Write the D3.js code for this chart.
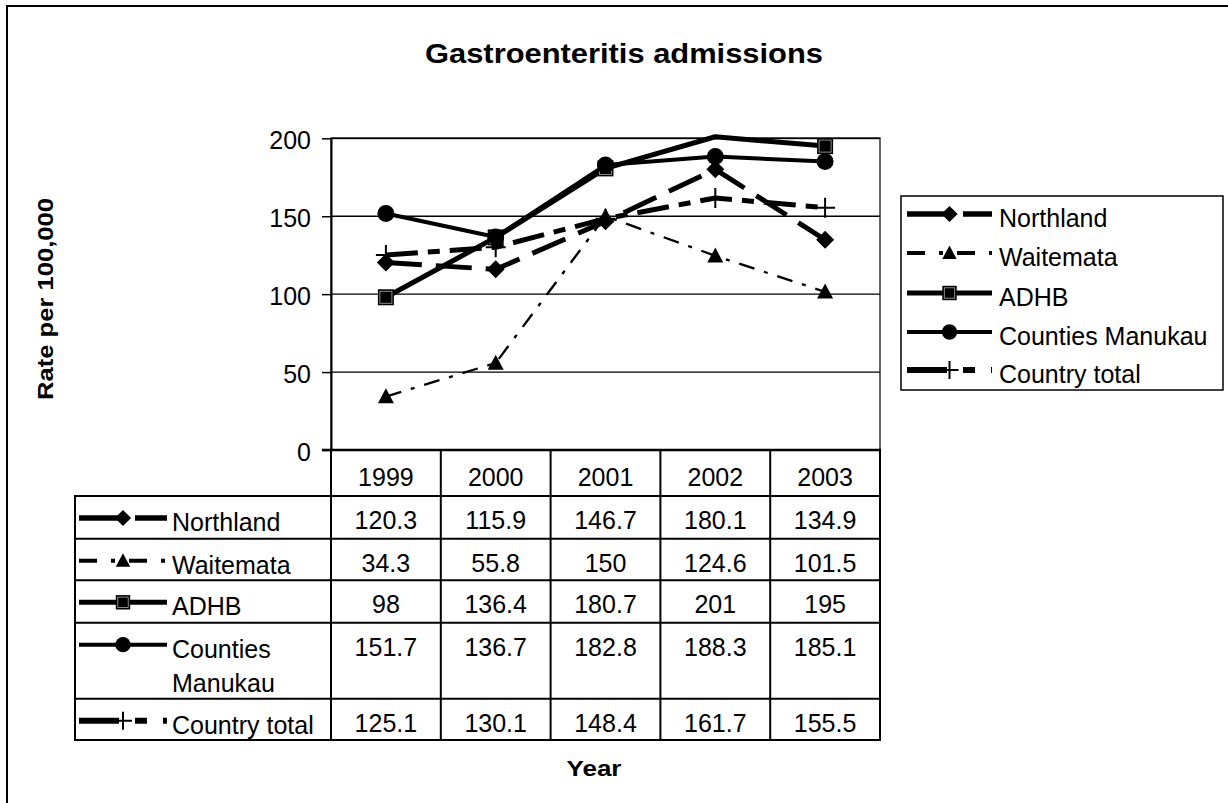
<!DOCTYPE html>
<html>
<head>
<meta charset="utf-8">
<script src="https://cdn.jsdelivr.net/npm/d3@7"></script>
<style>
  body { margin: 0; background: #fff; }
  svg { display: block; }
  svg text { font-family: "Liberation Sans", Arial, sans-serif; }
</style>
</head>
<body>
<div id="chart"></div>
<script>
// data
var years = ["1999", "2000", "2001", "2002", "2003"];
var seriesNames = ["Northland", "Waitemata", "ADHB", "Counties Manukau", "Country total"];
var northland = [120.3, 115.9, 146.7, 180.1, 134.9];
var waitemata = [34.3, 55.8, 150, 124.6, 101.5];
var adhb = [98, 136.4, 180.7, 201, 195];
var countiesManukau = [151.7, 136.7, 182.8, 188.3, 185.1];
var countryTotal = [125.1, 130.1, 148.4, 161.7, 155.5];
var yTicks = [0, 50, 100, 150, 200];

var seriesValues = [northland, waitemata, adhb, countiesManukau, countryTotal];

// line styles per series
var styles = [
    {dash: "36,14", width: 5, keyWidth: 5.5, keyDash: "40,16", marker: "diamond"},
    {dash: "16,10,4,10", width: 2.3, keyWidth: 4, keyDash: "18,14,4,14", marker: "triangle"},
    {dash: null, width: 5, keyWidth: 5, keyDash: null, marker: "square"},
    {dash: null, width: 4, keyWidth: 4, keyDash: null, marker: "circle"},
    {dash: "32,10,12,10", width: 5, keyWidth: 6, keyDash: "40,16,12,16", marker: "plus"}
];

var W = 1228, H = 803;
var plot = {left: 331, right: 880, top: 138.3, bottom: 450};
var FONT = "'Liberation Sans', Arial, sans-serif";

var svg = d3.select("#chart")
    .append("svg")
    .attr("width", W)
    .attr("height", H)
    .attr("font-family", FONT);

svg.append("rect")
    .attr("width", W).attr("height", H)
    .attr("fill", "#fff");

// outer chart frame (right / bottom edges fall outside the picture)
svg.append("rect")
    .attr("x", 7).attr("y", 6)
    .attr("width", W + 20).attr("height", H + 20)
    .attr("fill", "none")
    .attr("stroke", "#000")
    .attr("stroke-width", 2);

var x = d3.scaleBand()
    .domain(years)
    .range([plot.left, plot.right]);

var y = d3.scaleLinear()
    .domain([0, 200])
    .range([plot.bottom, plot.top]);

// plot area border + gridlines
svg.append("rect")
    .attr("x", plot.left).attr("y", plot.top)
    .attr("width", plot.right - plot.left)
    .attr("height", plot.bottom - plot.top)
    .attr("fill", "none")
    .attr("stroke", "#666")
    .attr("stroke-width", 2);

svg.append("g")
    .selectAll("line")
    .data(yTicks.filter(function (d) { return d > 0; }))
    .enter()
    .append("line")
    .attr("x1", plot.left).attr("x2", plot.right)
    .attr("y1", function (d) { return y(d); })
    .attr("y2", function (d) { return y(d); })
    .attr("stroke", "#000")
    .attr("stroke-width", 1.4);

// y axis
var yAxis = svg.append("g")
    .attr("transform", "translate(" + plot.left + ",0)")
    .call(d3.axisLeft(y).tickValues(yTicks).tickSize(9).tickSizeOuter(0).tickPadding(11));
yAxis.attr("font-family", FONT);
yAxis.select(".domain").attr("stroke", "#000").attr("stroke-width", 2);
yAxis.selectAll(".tick line").attr("stroke", "#000").attr("stroke-width", 1.5);
yAxis.selectAll(".tick text")
    .attr("font-size", 25)
    .attr("fill", "#000")
    .attr("dy", "0.42em");

////////// markers //////////

function drawMarker(g, type, cx, cy, k) {
    k = k || 1;
    if (type === "diamond") {
        var r = 9 * k;
        g.append("path")
            .attr("d", "M" + cx + "," + (cy - r) + "L" + (cx + r) + "," + cy +
                "L" + cx + "," + (cy + r) + "L" + (cx - r) + "," + cy + "Z")
            .attr("fill", "#000");
    } else if (type === "triangle") {
        var hw = 8 * k, h = 15 * k;
        g.append("path")
            .attr("d", "M" + cx + "," + (cy - h * 0.55) + "L" + (cx + hw) + "," + (cy + h * 0.45) +
                "L" + (cx - hw) + "," + (cy + h * 0.45) + "Z")
            .attr("fill", "#000");
    } else if (type === "square") {
        var s = 16 * k;
        g.append("rect")
            .attr("x", cx - s / 2).attr("y", cy - s / 2)
            .attr("width", s).attr("height", s)
            .attr("fill", "#000");
        g.append("rect")
            .attr("x", cx - s / 2 + 2).attr("y", cy - s / 2 + 2)
            .attr("width", s - 4).attr("height", s - 4)
            .attr("fill", "none")
            .attr("stroke", "#aaa")
            .attr("stroke-width", 0.8);
    } else if (type === "circle") {
        g.append("circle")
            .attr("cx", cx).attr("cy", cy)
            .attr("r", 8.5 * k)
            .attr("fill", "#000");
    } else if (type === "plus") {
        var a = 10 * k;
        g.append("path")
            .attr("d", "M" + (cx - a) + "," + cy + "H" + (cx + a) + "M" + cx + "," + (cy - a) + "V" + (cy + a))
            .attr("stroke", "#000")
            .attr("stroke-width", 2)
            .attr("fill", "none");
    }
}

function drawKey(g, i, x1, x2, cy) {
    var st = styles[i];
    g.append("line")
        .attr("x1", x1).attr("x2", x2)
        .attr("y1", cy).attr("y2", cy)
        .attr("stroke", "#000")
        .attr("stroke-width", st.keyWidth)
        .attr("stroke-dasharray", st.keyDash);
    drawMarker(g, st.marker, (x1 + x2) / 2, cy, 0.9);
}

////////// lines //////////

var line = d3.line()
    .x(function (d, i) { return x(years[i]) + x.bandwidth() / 2; })
    .y(function (d) { return y(d); });

var seriesG = svg.append("g");

seriesValues.forEach(function (vals, i) {
    var st = styles[i];
    var g = seriesG.append("g");
    g.append("path")
        .datum(vals)
        .attr("d", line)
        .attr("fill", "none")
        .attr("stroke", "#000")
        .attr("stroke-width", st.width)
        .attr("stroke-linejoin", "round")
        .attr("stroke-dasharray", st.dash);
    vals.forEach(function (v, j) {
        // markers outside the value axis are not drawn
        if (v > y.domain()[1]) return;
        drawMarker(g, st.marker, x(years[j]) + x.bandwidth() / 2, y(v));
    });
});

////////// data table //////////

var tableLeft = 75;
var rowHeights = [46, 42.7, 41.6, 42.4, 76, 41.3];
var rowTops = [plot.bottom];
rowHeights.forEach(function (h, i) { rowTops.push(rowTops[i] + h); });
var tableBottom = rowTops[rowTops.length - 1];

var table = svg.append("g");

// year header
table.selectAll("text.year")
    .data(years)
    .enter()
    .append("text")
    .attr("class", "year")
    .attr("x", function (d) { return x(d) + x.bandwidth() / 2; })
    .attr("y", rowTops[0] + 35.5)
    .attr("text-anchor", "middle")
    .attr("font-size", 25)
    .text(function (d) { return d; });

// value cells
seriesValues.forEach(function (vals, i) {
    table.selectAll("text.v" + i)
        .data(vals)
        .enter()
        .append("text")
        .attr("class", "v" + i)
        .attr("x", function (d, j) { return x(years[j]) + x.bandwidth() / 2; })
        .attr("y", rowTops[i + 1] + 33)
        .attr("text-anchor", "middle")
        .attr("font-size", 25)
        .text(function (d) { return String(d); });

    // row label with legend key
    var top = rowTops[i + 1];
    drawKey(table, i, 79, 167, top + 22);
    var label = table.append("text")
        .attr("x", 172)
        .attr("y", top + 35)
        .attr("font-size", 25);
    if (seriesNames[i] === "Counties Manukau") {
        label.append("tspan").attr("x", 172).text("Counties");
        label.append("tspan").attr("x", 172).attr("dy", 34).text("Manukau");
    } else {
        label.text(seriesNames[i]);
    }
});

// grid of the table
var colEdges = years.map(function (d) { return x(d); }).concat([plot.right]);
table.selectAll("line.col")
    .data(colEdges)
    .enter()
    .append("line")
    .attr("x1", function (d) { return d; })
    .attr("x2", function (d) { return d; })
    .attr("y1", plot.bottom)
    .attr("y2", tableBottom)
    .attr("stroke", "#000")
    .attr("stroke-width", 2);

table.append("line")
    .attr("x1", tableLeft).attr("x2", tableLeft)
    .attr("y1", rowTops[1]).attr("y2", tableBottom)
    .attr("stroke", "#000")
    .attr("stroke-width", 2);

table.selectAll("line.row")
    .data(rowTops.slice(1))
    .enter()
    .append("line")
    .attr("x1", tableLeft - 1)
    .attr("x2", plot.right + 1)
    .attr("y1", function (d) { return d; })
    .attr("y2", function (d) { return d; })
    .attr("stroke", "#000")
    .attr("stroke-width", 2);

// category axis line
table.append("line")
    .attr("x1", plot.left - 9).attr("x2", plot.right + 1)
    .attr("y1", plot.bottom).attr("y2", plot.bottom)
    .attr("stroke", "#000")
    .attr("stroke-width", 2.5);

////////// legend //////////

var legend = svg.append("g");
legend.append("rect")
    .attr("x", 901).attr("y", 196)
    .attr("width", 322).attr("height", 194)
    .attr("fill", "#fff")
    .attr("stroke", "#000")
    .attr("stroke-width", 1.5);

var legendBaselines = [227, 266, 306, 345, 383];
seriesNames.forEach(function (name, i) {
    drawKey(legend, i, 907, 992, legendBaselines[i] - 13);
    legend.append("text")
        .attr("x", 999)
        .attr("y", legendBaselines[i])
        .attr("font-size", 25)
        .text(name);
});

////////// titles //////////

svg.append("text")
    .attr("x", 624)
    .attr("y", 63)
    .attr("text-anchor", "middle")
    .attr("font-size", 28)
    .attr("font-weight", "bold")
    .attr("textLength", 398)
    .attr("lengthAdjust", "spacingAndGlyphs")
    .text("Gastroenteritis admissions");

svg.append("text")
    .attr("transform", "translate(53,299) rotate(-90)")
    .attr("text-anchor", "middle")
    .attr("font-size", 22)
    .attr("font-weight", "bold")
    .attr("textLength", 202)
    .attr("lengthAdjust", "spacingAndGlyphs")
    .text("Rate per 100,000");

svg.append("text")
    .attr("x", 594)
    .attr("y", 776)
    .attr("text-anchor", "middle")
    .attr("font-size", 22)
    .attr("font-weight", "bold")
    .attr("textLength", 55)
    .attr("lengthAdjust", "spacingAndGlyphs")
    .text("Year");
</script>
</body>
</html>
